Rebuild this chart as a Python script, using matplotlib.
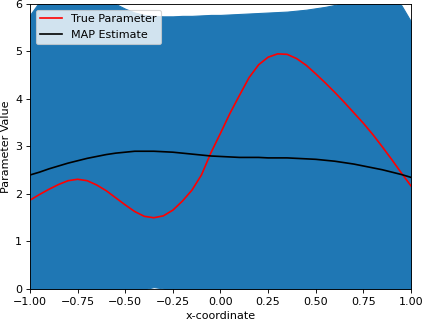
import numpy as np
from matplotlib import pyplot as plt

# x grid the curves were read on
x_coord = np.round(np.arange(-1.0, 1.0001, 0.05), 2)

true_param = [1.87, 1.99, 2.10, 2.20, 2.28, 2.31, 2.28, 2.19, 2.07, 1.92,
              1.77, 1.63, 1.53, 1.50, 1.54, 1.66, 1.85, 2.08, 2.40, 2.87,
              3.28, 3.70, 4.08, 4.45, 4.72, 4.88, 4.95, 4.94, 4.85, 4.71,
              4.53, 4.34, 4.14, 3.93, 3.71, 3.49, 3.25, 2.99, 2.72, 2.44,
              2.17]

map_est = [2.40, 2.46, 2.53, 2.59, 2.65, 2.70, 2.75, 2.79, 2.83, 2.86,
           2.88, 2.90, 2.90, 2.90, 2.89, 2.88, 2.86, 2.84, 2.82, 2.80,
           2.79, 2.78, 2.77, 2.77, 2.77, 2.76, 2.76, 2.76, 2.75, 2.74,
           2.73, 2.71, 2.69, 2.66, 2.63, 2.59, 2.55, 2.51, 2.46, 2.41,
           2.35]

band_upper = [5.77, 6.05, 6.25, 6.35, 6.35, 6.30, 6.25, 6.20, 6.10, 6.00,
              5.90, 5.82, 5.77, 5.75, 5.74, 5.74, 5.75, 5.75, 5.76, 5.77,
              5.77, 5.78, 5.79, 5.80, 5.81, 5.82, 5.83, 5.84, 5.86, 5.88,
              5.91, 5.94, 5.98, 6.03, 6.10, 6.15, 6.18, 6.16, 6.10, 5.97,
              5.63]

band_lower = [-0.40, -0.38, -0.35, -0.32, -0.28, -0.25, -0.22, -0.18, -0.14, -0.10,
              -0.06, -0.03, -0.005, 0.04, 0.01, -0.05, -0.10, -0.15, -0.20, -0.24,
              -0.28, -0.30, -0.32, -0.34, -0.35, -0.36, -0.36, -0.36, -0.35, -0.34,
              -0.33, -0.32, -0.31, -0.30, -0.30, -0.31, -0.32, -0.34, -0.36, -0.38,
              -0.40]

fig = plt.figure(figsize=(423 / 80, 322 / 80), dpi=80)
ax = fig.add_axes([0.0709, 0.1025, 0.9007, 0.8851])

ax.fill_between(x_coord, band_lower, band_upper, color="C0")
ax.plot(x_coord, true_param, color="red", label="True Parameter")
ax.plot(x_coord, map_est, color="black", label="MAP Estimate")

ax.set_xlim(-1, 1)
ax.set_ylim(0, 6)
ax.set_xlabel("x-coordinate")
ax.set_ylabel("Parameter Value")
ax.legend(loc="upper left")

fig.savefig("out.png", dpi=80)
